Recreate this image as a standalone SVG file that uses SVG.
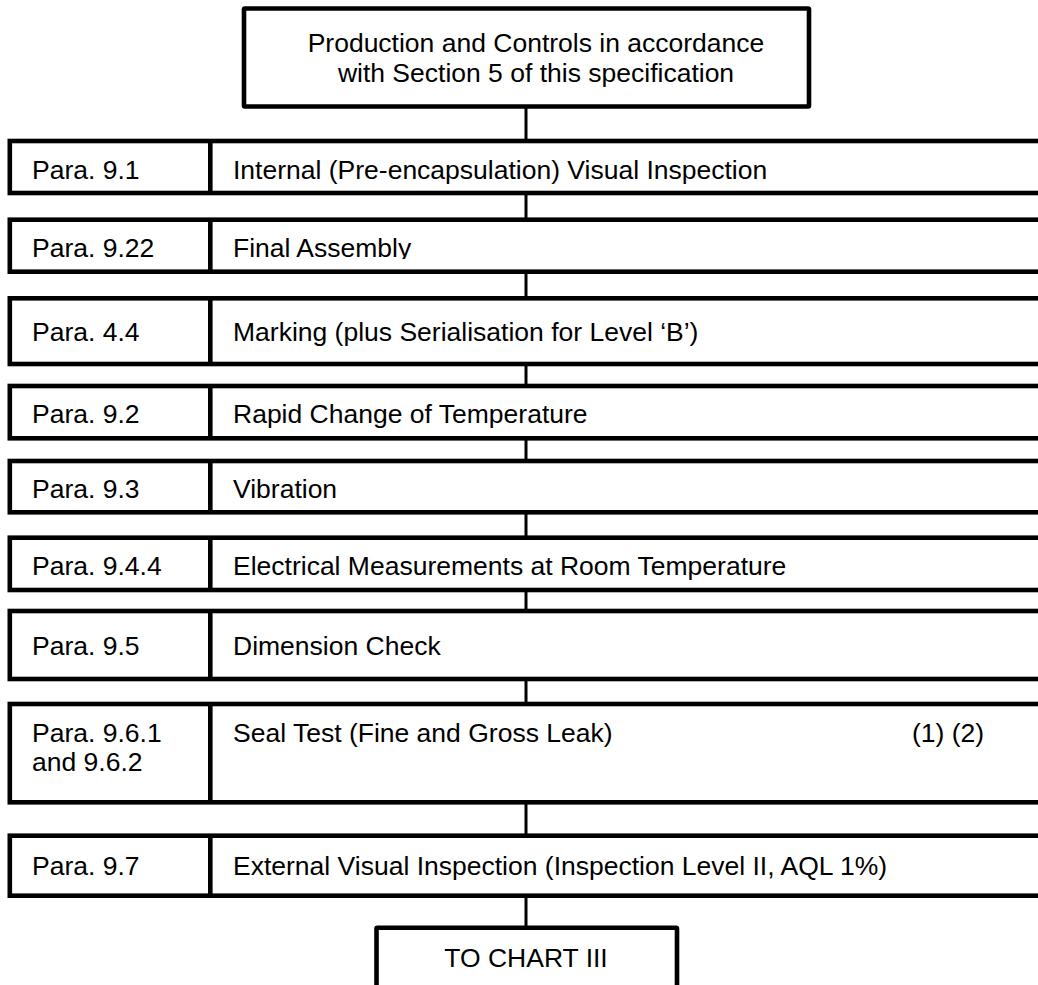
<svg xmlns="http://www.w3.org/2000/svg" width="1038" height="985" viewBox="0 0 1038 985">
<style>
  .box { fill: #ffffff; stroke: #000000; stroke-width: 4.6; }
  .div { stroke: #000000; stroke-width: 4.6; }
  .conn { stroke: #000000; stroke-width: 3; fill: none; }
  text { font-family: "Liberation Sans", Arial, sans-serif; font-size: 26.5px; fill: #000000; }
  .mid { text-anchor: middle; }
</style>
<defs>
  <clipPath id="clipRow2"><rect x="0" y="200" width="1038" height="59"/></clipPath>
</defs>
<rect x="0" y="0" width="1038" height="985" fill="#ffffff"/>
<g id="connectors">
  <line class="conn" x1="526" y1="106" x2="526" y2="141"/>
  <line class="conn" x1="526" y1="193" x2="526" y2="220"/>
  <line class="conn" x1="526" y1="272" x2="526" y2="298"/>
  <line class="conn" x1="526" y1="364" x2="526" y2="386"/>
  <line class="conn" x1="526" y1="438" x2="526" y2="461"/>
  <line class="conn" x1="526" y1="512" x2="526" y2="538"/>
  <line class="conn" x1="526" y1="590" x2="526" y2="611"/>
  <line class="conn" x1="526" y1="679" x2="526" y2="704"/>
  <line class="conn" x1="526" y1="802" x2="526" y2="836"/>
  <line class="conn" x1="526" y1="896" x2="526" y2="928"/>
</g>
<g id="start">
  <rect class="box" x="244" y="8.5" width="565" height="98" rx="1"/>
  <text class="mid" x="536" y="51.7">Production and Controls in accordance</text>
  <text class="mid" x="536" y="81.7">with Section 5 of this specification</text>
</g>
<g id="row-9-1">
  <rect class="box" x="9.8" y="141" width="1040" height="52"/>
  <line class="div" x1="210.3" y1="141" x2="210.3" y2="193"/>
  <text x="32" y="179.3">Para. 9.1</text>
  <text x="233" y="179.3">Internal (Pre-encapsulation) Visual Inspection</text>
</g>
<g id="row-9-22">
  <rect class="box" x="9.8" y="219.7" width="1040" height="52"/>
  <line class="div" x1="210.3" y1="219.7" x2="210.3" y2="271.7"/>
  <text x="32" y="256.7">Para. 9.22</text>
  <text x="233" y="256.7" clip-path="url(#clipRow2)">Final Assembly</text>
</g>
<g id="row-4-4">
  <rect class="box" x="9.8" y="298.3" width="1040" height="65.7"/>
  <line class="div" x1="210.3" y1="298.3" x2="210.3" y2="364"/>
  <text x="32" y="341">Para. 4.4</text>
  <text x="233" y="341">Marking (plus Serialisation for Level ‘B’)</text>
</g>
<g id="row-9-2">
  <rect class="box" x="9.8" y="386" width="1040" height="52.3"/>
  <line class="div" x1="210.3" y1="386" x2="210.3" y2="438.3"/>
  <text x="32" y="423.3">Para. 9.2</text>
  <text x="233" y="423.3">Rapid Change of Temperature</text>
</g>
<g id="row-9-3">
  <rect class="box" x="9.8" y="461" width="1040" height="51.3"/>
  <line class="div" x1="210.3" y1="461" x2="210.3" y2="512.3"/>
  <text x="32" y="498.3">Para. 9.3</text>
  <text x="233" y="498.3">Vibration</text>
</g>
<g id="row-9-4-4">
  <rect class="box" x="9.8" y="537.7" width="1040" height="52.3"/>
  <line class="div" x1="210.3" y1="537.7" x2="210.3" y2="590"/>
  <text x="32" y="575">Para. 9.4.4</text>
  <text x="233" y="575">Electrical Measurements at Room Temperature</text>
</g>
<g id="row-9-5">
  <rect class="box" x="9.8" y="611" width="1040" height="68"/>
  <line class="div" x1="210.3" y1="611" x2="210.3" y2="679"/>
  <text x="32" y="655.3">Para. 9.5</text>
  <text x="233" y="655.3">Dimension Check</text>
</g>
<g id="row-9-6">
  <rect class="box" x="9.8" y="704" width="1040" height="98.3"/>
  <line class="div" x1="210.3" y1="704" x2="210.3" y2="802.3"/>
  <text x="32" y="741.7">Para. 9.6.1</text>
  <text x="32" y="771">and 9.6.2</text>
  <text x="233" y="741.7">Seal Test (Fine and Gross Leak)</text>
  <text x="912" y="741.7">(1) (2)</text>
</g>
<g id="row-9-7">
  <rect class="box" x="9.8" y="835.7" width="1040" height="60"/>
  <line class="div" x1="210.3" y1="835.7" x2="210.3" y2="895.7"/>
  <text x="32" y="875">Para. 9.7</text>
  <text x="233" y="875">External Visual Inspection (Inspection Level II, AQL 1%)</text>
</g>
<g id="end">
  <rect class="box" x="376.5" y="927.8" width="300.5" height="80" rx="1"/>
  <text class="mid" x="526" y="967.3">TO CHART III</text>
</g>
</svg>
